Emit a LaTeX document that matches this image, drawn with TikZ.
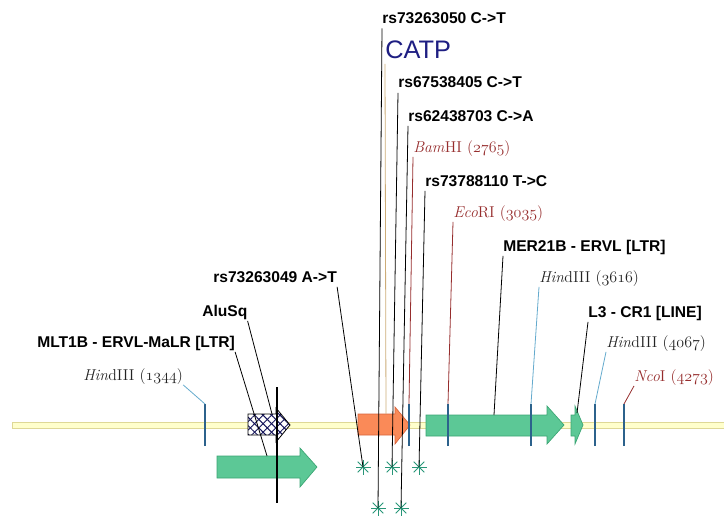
\documentclass[tikz,border=0pt]{standalone}
\usepackage{fontspec}
\newfontfamily\snpfont{Liberation Sans}
\usetikzlibrary{calc, patterns.meta}

\definecolor{bbfill}{RGB}{255,255,204}
\definecolor{bbline}{RGB}{222,216,150}
\definecolor{cutblue}{RGB}{44,98,140}
\definecolor{ltrgreen}{RGB}{92,200,150}
\definecolor{ltredge}{RGB}{58,165,115}
\definecolor{catporange}{RGB}{250,138,88}
\definecolor{catpedge}{RGB}{215,100,60}
\definecolor{catpnavy}{RGB}{30,30,130}
\definecolor{catptan}{RGB}{205,172,120}
\definecolor{hindblue}{RGB}{100,170,205}
\definecolor{sitered}{RGB}{150,45,45}
\definecolor{sitegray}{RGB}{35,35,35}
\definecolor{snpgreen}{RGB}{40,150,120}
\definecolor{alunavy}{RGB}{20,20,90}

% enzyme name: italic part, upright part, position
\newcommand{\enz}[3]{\textit{#1}#2 ($\mathnormal{#3}$)}

\begin{document}
\begin{tikzpicture}[x=0.75pt, y=-0.75pt,
  snp/.style={anchor=base west, inner xsep=0pt, inner ysep=1pt, text depth=0.25em,
    font=\snpfont\bfseries\fontsize{11.7}{14}\selectfont},
  site/.style={anchor=base west, inner xsep=0pt, inner ysep=1pt, text depth=0.25em,
    font=\fontsize{11.8}{14}\selectfont},
  lead/.style={line width=0.6pt},
  cut/.style={cutblue, line width=2.2pt},
  ltr/.style={fill=ltrgreen, draw=ltredge, line width=0.5pt},
  snpstar/.style={circle, minimum size=12pt, inner sep=0pt, path picture={
    \foreach \a in {0,45,90,135}
      \draw[snpgreen, line width=0.7pt]
        ($(path picture bounding box.center)+(\a:7.5)$) --
        ($(path picture bounding box.center)+(\a+180:7.5)$);}}]

  \useasboundingbox (0,0) rectangle (724,517);

  % backbone
  \draw[fill=bbfill, draw=bbline, line width=0.6pt] (12,422) rectangle (726,428);

  % repeats and gene
  \draw[ltr] (217,456) -- (300,456) -- (300,448) -- (317,467) -- (300,487)
    -- (300,478) -- (217,478) -- cycle;
  \draw[line width=0.6pt, preaction={fill=white},
    preaction={pattern={Lines[angle=45,distance=4.5pt,line width=0.7pt]}, pattern color=alunavy},
    pattern={Lines[angle=-45,distance=4.5pt,line width=0.7pt]}, pattern color=alunavy]
    (248,414) -- (276,414) -- (276,408) -- (290,425) -- (276,442)
    -- (276,435) -- (248,435) -- cycle;
  \draw[fill=catporange, draw=catpedge, line width=0.5pt] (358,414) -- (395,414)
    -- (395,407) -- (410,425) -- (395,444) -- (395,435) -- (358,435) -- cycle;
  \draw[ltr] (426,415) -- (547,415) -- (547,406) -- (564,425) -- (547,444)
    -- (547,436) -- (426,436) -- cycle;
  \draw[ltr] (571,415) -- (575,415) -- (575,406) -- (583,425) -- (575,444)
    -- (575,436) -- (571,436) -- cycle;

  % cut sites
  \foreach \x/\n in {205/hindA, 409/bam, 448/eco, 531/hindB, 595/hindC, 624/nco}
    \draw[cut] (\x,446) -- (\x,404) coordinate (\n);

  % leader ends on the features
  \coordinate (mlt) at (267,456);
  \coordinate (alu) at (272,414);
  \coordinate (catp) at (386,414);
  \coordinate (mer) at (494,415);
  \coordinate (lthree) at (577,413);

  % marker
  \draw[line width=2.2pt] (277,387) -- (277,503);

  % SNPs
  \node[snpstar] (sA) at (363,467) {};
  \node[snpstar] (sB) at (378,508) {};
  \node[snpstar] (sC) at (392,467) {};
  \node[snpstar] (sD) at (401,508) {};
  \node[snpstar] (sE) at (419,467) {};

  % labels
  \node[snp] (rsA) at (213,282) {rs73263049 A->T};
  \node[snp] (rsB) at (382,23.5) {rs73263050 C->T};
  \node[snp] (rsC) at (398,88) {rs67538405 C->T};
  \node[snp] (rsD) at (408,121) {rs62438703 C->A};
  \node[snp] (rsE) at (425,186) {rs73788110 T->C};
  \node[snp] (aluL) at (202,316) {AluSq};
  \node[snp] (mltL) at (37,347) {MLT1B - ERVL-MaLR [LTR]};
  \node[snp] (merL) at (503,251) {MER21B - ERVL [LTR]};
  \node[snp] (lthreeL) at (588,317) {L3 - CR1 [LINE]};
  \node[anchor=base west, inner xsep=0pt, inner ysep=1pt, text depth=0.25em,
    font=\snpfont\fontsize{19}{22}\selectfont, catpnavy] (catpL) at (385,59) {CATP};

  \node[site, sitegray] (hindAL) at (83,380) {\enz{Hin}{dIII}{1344}};
  \node[site, sitered] (bamL) at (413,152) {\enz{Bam}{HI}{2765}};
  \node[site, sitered] (ecoL) at (453,217) {\enz{Eco}{RI}{3035}};
  \node[site, sitegray] (hindBL) at (539,282) {\enz{Hin}{dIII}{3616}};
  \node[site, sitegray] (hindCL) at (606,347) {\enz{Hin}{dIII}{4067}};
  \node[site, sitered] (ncoL) at (634,381) {\enz{Nco}{I}{4273}};

  % leaders
  \draw[lead] (rsA.south east) -- (sA.center);
  \draw[lead] (rsB.south west) -- (sB.center);
  \draw[lead] (rsC.south west) -- (sC.center);
  \draw[lead] (rsD.south west) -- (sD.center);
  \draw[lead] (rsE.south west) -- (sE.center);
  \draw[lead, catptan] (catpL.south west) -- (catp);
  \draw[lead] (aluL.south east) -- (alu);
  \draw[lead] (mltL.south east) -- (mlt);
  \draw[lead] (merL.south west) -- (mer);
  \draw[lead] (lthreeL.south west) -- (lthree);
  \draw[lead, hindblue] (hindAL.south east) -- (hindA);
  \draw[lead, sitered] (bamL.south west) -- (bam);
  \draw[lead, sitered] (ecoL.south west) -- (eco);
  \draw[lead, hindblue] (hindBL.south west) -- (hindB);
  \draw[lead, hindblue] (hindCL.south west) -- (hindC);
  \draw[lead, sitered] (ncoL.south west) -- (nco);
\end{tikzpicture}
\end{document}
